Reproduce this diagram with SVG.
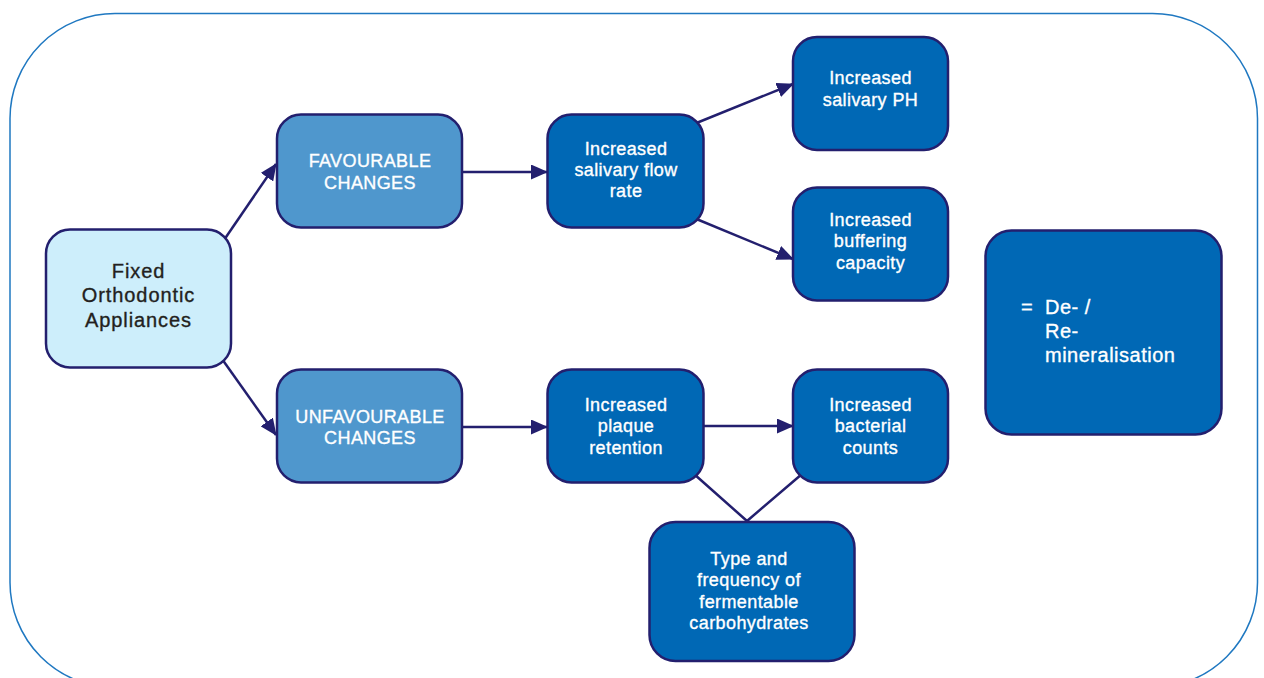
<svg xmlns="http://www.w3.org/2000/svg" width="1264" height="678" viewBox="0 0 1264 678">
<defs>
<style>
.frame{fill:none;stroke:#1f78c1;stroke-width:1.5}
.box{stroke:#231f6e;stroke-width:2.5}
.light{fill:#cdeefb}
.mid{fill:#4f97cd}
.dark{fill:#0068b5}
.t{font-family:"Liberation Sans",Arial,sans-serif;font-size:18px;fill:#ffffff;stroke:#ffffff;stroke-width:0.35px;text-anchor:middle;letter-spacing:0.4px}
.tf{font-family:"Liberation Sans",Arial,sans-serif;font-size:20px;fill:#231f20;stroke:#231f20;stroke-width:0.35px;text-anchor:middle;letter-spacing:0.9px}
.tr{font-family:"Liberation Sans",Arial,sans-serif;font-size:20px;fill:#ffffff;stroke:#ffffff;stroke-width:0.35px;letter-spacing:0.5px}
.c{fill:none;stroke:#231f6e;stroke-width:2.5}
</style>
<marker id="ah" markerUnits="userSpaceOnUse" markerWidth="17" markerHeight="15" refX="16" refY="7.5" orient="auto">
<path d="M0,0 L17,7.5 L0,15 Z" fill="#231f6e"/>
</marker>
</defs>
<rect class="frame" x="10" y="13.5" width="1247.5" height="674" rx="105" ry="105"/>
<g id="connectors">
<line class="c" x1="224" y1="240" x2="276" y2="164" marker-end="url(#ah)"/>
<line class="c" x1="222" y1="359" x2="276" y2="435" marker-end="url(#ah)"/>
<line class="c" x1="462" y1="172" x2="547" y2="172" marker-end="url(#ah)"/>
<line class="c" x1="694" y1="124" x2="793" y2="84" marker-end="url(#ah)"/>
<line class="c" x1="694" y1="218" x2="793" y2="259" marker-end="url(#ah)"/>
<line class="c" x1="462" y1="427" x2="547" y2="427" marker-end="url(#ah)"/>
<line class="c" x1="703" y1="426" x2="793" y2="426" marker-end="url(#ah)"/>
<polyline class="c" points="694,474 747,521 802,474"/>
</g>
<g id="fixed">
<rect class="box light" x="46" y="229.5" width="185" height="138" rx="24"/>
<text class="tf" x="138.5" y="278">Fixed</text>
<text class="tf" x="138.5" y="302">Orthodontic</text>
<text class="tf" x="138.5" y="327">Appliances</text>
</g>
<g id="favourable">
<rect class="box mid" x="277" y="114.5" width="185" height="113" rx="24"/>
<text class="t" x="370" y="167">FAVOURABLE</text>
<text class="t" x="370" y="189">CHANGES</text>
</g>
<g id="unfavourable">
<rect class="box mid" x="277" y="369.5" width="185" height="113" rx="24"/>
<text class="t" x="370" y="423">UNFAVOURABLE</text>
<text class="t" x="370" y="444">CHANGES</text>
</g>
<g id="flow">
<rect class="box dark" x="547.5" y="114.5" width="156" height="113" rx="24"/>
<text class="t" x="626" y="155">Increased</text>
<text class="t" x="626" y="176">salivary flow</text>
<text class="t" x="626" y="197">rate</text>
</g>
<g id="ph">
<rect class="box dark" x="793" y="37" width="155" height="113" rx="24"/>
<text class="t" x="870.5" y="84">Increased</text>
<text class="t" x="870.5" y="106">salivary PH</text>
</g>
<g id="buffering">
<rect class="box dark" x="793" y="187.5" width="155" height="113" rx="24"/>
<text class="t" x="870.5" y="226">Increased</text>
<text class="t" x="870.5" y="247">buffering</text>
<text class="t" x="870.5" y="269">capacity</text>
</g>
<g id="remin">
<rect class="box dark" x="985.5" y="230.5" width="236" height="204" rx="26"/>
<text class="tr" x="1021" y="314">=</text>
<text class="tr" x="1045" y="314">De- /</text>
<text class="tr" x="1045" y="338">Re-</text>
<text class="tr" x="1045" y="362">mineralisation</text>
</g>
<g id="plaque">
<rect class="box dark" x="547.5" y="369.5" width="156" height="113" rx="24"/>
<text class="t" x="626" y="411">Increased</text>
<text class="t" x="626" y="432">plaque</text>
<text class="t" x="626" y="454">retention</text>
</g>
<g id="bacterial">
<rect class="box dark" x="793" y="369.5" width="155" height="113" rx="24"/>
<text class="t" x="870.5" y="411">Increased</text>
<text class="t" x="870.5" y="432">bacterial</text>
<text class="t" x="870.5" y="454">counts</text>
</g>
<g id="carbs">
<rect class="box dark" x="649.5" y="522" width="205" height="139" rx="26"/>
<text class="t" x="749" y="565">Type and</text>
<text class="t" x="749" y="586">frequency of</text>
<text class="t" x="749" y="608">fermentable</text>
<text class="t" x="749" y="629">carbohydrates</text>
</g>
</svg>
